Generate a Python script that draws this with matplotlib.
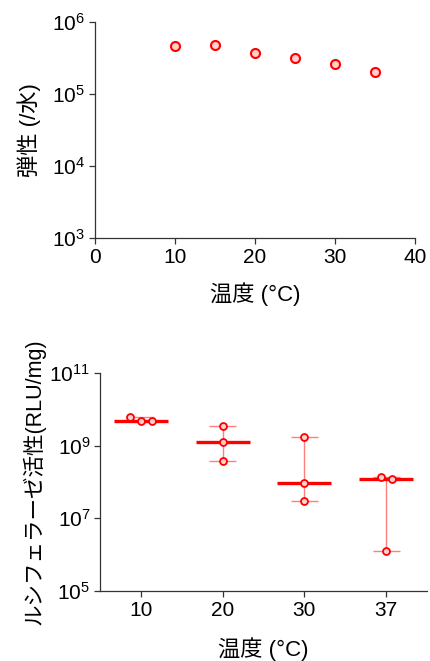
import numpy as np
import matplotlib
matplotlib.use("Agg")
import matplotlib.pyplot as plt
from matplotlib.ticker import FixedLocator, NullLocator, LogFormatterSciNotation

plt.rcParams['font.family'] = ['Liberation Sans', 'Noto Sans CJK JP', 'DejaVu Sans']
plt.rcParams['mathtext.fontset'] = 'custom'
plt.rcParams['mathtext.rm'] = 'Liberation Sans'
plt.rcParams['mathtext.it'] = 'Liberation Sans'

# top panel: elasticity vs temperature
temps = [10, 15, 20, 25, 30, 35]
elastic = [4.6e5, 4.7e5, 3.7e5, 3.1e5, 2.6e5, 2.0e5]

# bottom panel: luciferase activity per temperature, 3 replicates each
groups = ["10", "20", "30", "37"]
luc_10 = [6.25e9, 4.85e9, 4.85e9]
luc_20 = [3.5e9, 1.23e9, 3.7e8]
luc_30 = [1.76e9, 9.5e7, 3.0e7]
luc_37 = [1.39e8, 1.18e8, 1.26e6]
luc = [luc_10, luc_20, luc_30, luc_37]
jitter = [[-0.135, 0.0, 0.14], [0, 0, 0], [0, 0, 0], [-0.06, 0.07, 0.0]]

red = "#ff0000"
pink = "#ffd0d0"
spine_col = "#333333"

fig = plt.figure(figsize=(4.30, 6.61), dpi=100)


def style_axes(ax):
    for s in ["top", "right"]:
        ax.spines[s].set_visible(False)
    for s in ["left", "bottom"]:
        ax.spines[s].set_color(spine_col)
        ax.spines[s].set_linewidth(0.9)
    ax.tick_params(length=4, width=0.9, color=spine_col, labelsize=15, pad=3)
    ax.yaxis.set_minor_locator(NullLocator())


ax1 = fig.add_axes([0.221, 0.640, 0.744, 0.327])
ax1.plot(temps, elastic, "o", ms=6.5, mfc=pink, mec=red, mew=1.5, ls="none")
ax1.set_yscale("log")
ax1.set_ylim(1e3, 1e6)
ax1.set_xlim(0, 40)
ax1.set_xticks([0, 10, 20, 30, 40])
ax1.yaxis.set_major_locator(FixedLocator([1e3, 1e4, 1e5, 1e6]))
ax1.yaxis.set_major_formatter(LogFormatterSciNotation())
style_axes(ax1)
ax1.set_xlabel("温度 (°C)", fontsize=16, labelpad=11)
ax1.set_ylabel("弾性 (/水)", fontsize=16, labelpad=8)

ax2 = fig.add_axes([0.2326, 0.106, 0.7604, 0.330])
x = np.arange(len(groups))
for i, vals in enumerate(luc):
    xs = x[i] + np.array(jitter[i])
    lo, hi, med = min(vals), max(vals), np.median(vals)
    ax2.vlines(x[i], lo, hi, color=red, alpha=0.5, lw=1.0, zorder=1)
    ax2.hlines([lo, hi], x[i] - 0.165, x[i] + 0.165, color=red, alpha=0.5, lw=1.0, zorder=1)
    ax2.hlines(med, x[i] - 0.33, x[i] + 0.33, color=red, lw=2.4, zorder=2)
    ax2.plot(xs, vals, "o", ms=5, mfc=pink, mec=red, mew=1.3, ls="none", zorder=3)
ax2.set_yscale("log")
ax2.set_ylim(1e5, 1e11)
ax2.set_xlim(-0.5, 3.5)
ax2.set_xticks(x)
ax2.set_xticklabels(groups)
ax2.yaxis.set_major_locator(FixedLocator([1e5, 1e7, 1e9, 1e11]))
ax2.yaxis.set_major_formatter(LogFormatterSciNotation())
style_axes(ax2)
ax2.set_xlabel("温度 (°C)", fontsize=16, labelpad=13)
ax2.set_ylabel("ルシフェラーゼ活性(RLU/mg)", fontsize=15.5, labelpad=3)

fig.savefig("out.png", dpi=100)
